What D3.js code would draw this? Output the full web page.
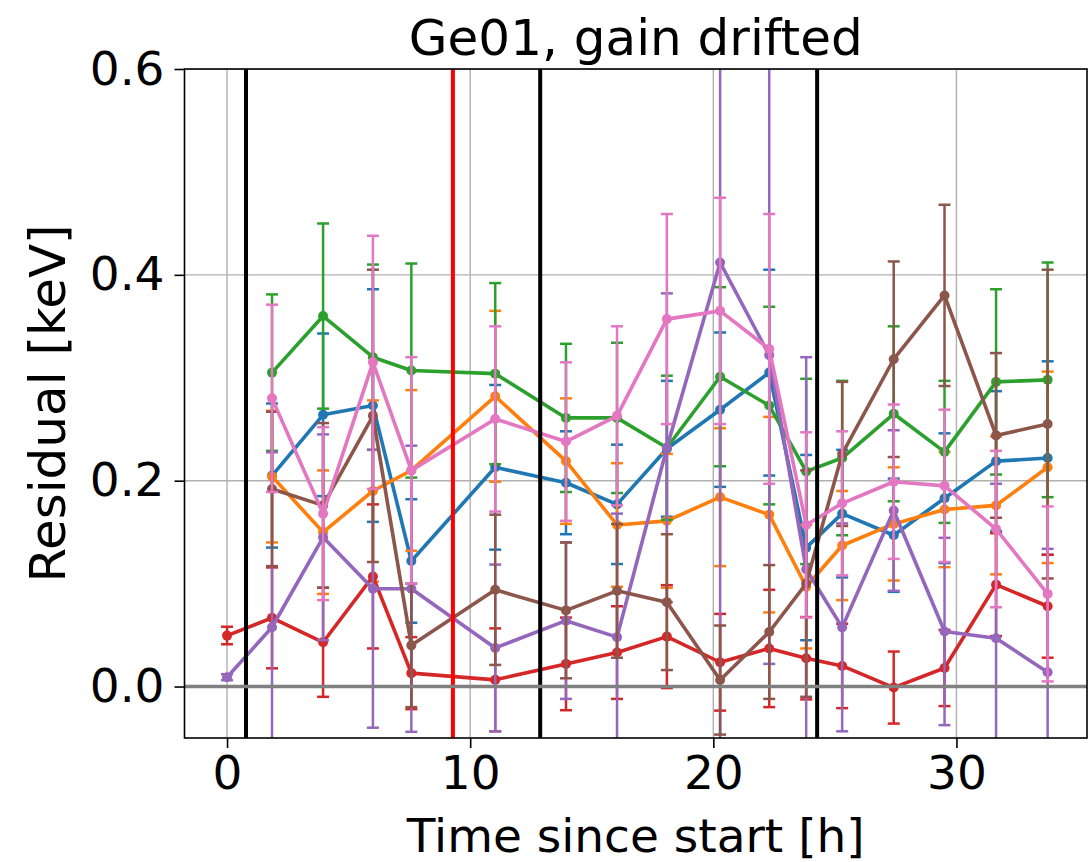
<!DOCTYPE html>
<html>
<head>
<meta charset="utf-8">
<script src="https://cdn.jsdelivr.net/npm/d3@7"></script>
<style>
  body { margin: 0; background: #fff; }
  svg { display: block; }
  text { font-family: "DejaVu Sans", sans-serif; fill: #000; }
</style>
</head>
<body>
<svg id="chart" width="1088" height="862"></svg>
<script>
// Measurement times in hours since start
const times = [0, 1.85, 3.95, 6.0, 7.58, 11.03, 13.94, 16.04, 18.09, 20.28, 22.3, 23.82, 25.3, 27.42, 29.51, 31.63, 33.75];

// Residuals [keV] per series (null = no measurement at that time)
const blueVals   = [null, 0.205, 0.264, 0.273, 0.122, 0.213, 0.198, 0.177, 0.231, 0.269, 0.305, 0.135, 0.168, 0.147, 0.183, 0.219, 0.222];
const orangeVals = [null, 0.204, 0.150, 0.190, 0.210, 0.282, 0.219, 0.157, 0.161, 0.184, 0.167, 0.097, 0.137, 0.158, 0.172, 0.176, 0.213];
const greenVals  = [null, 0.305, 0.360, 0.320, 0.307, 0.304, 0.261, 0.261, 0.232, 0.301, 0.273, 0.209, 0.222, 0.265, 0.228, 0.296, 0.298];
const redVals    = [0.0495, 0.0667, 0.043, 0.107, 0.013, 0.0065, 0.022, 0.033, 0.0485, 0.0236, 0.037, 0.0275, 0.020, -0.001, 0.018, 0.099, 0.078];
const purpleVals = [0.009, 0.0576, 0.145, 0.095, 0.095, 0.0375, 0.064, 0.048, 0.232, 0.412, 0.322, 0.114, 0.0575, 0.171, 0.0535, 0.047, 0.0138];
const brownVals  = [null, 0.192, 0.176, 0.263, 0.040, 0.094, 0.074, 0.093, 0.082, 0.0063, 0.053, 0.100, 0.226, 0.318, 0.380, 0.244, 0.255];
const pinkVals   = [null, 0.280, 0.168, 0.315, 0.210, 0.260, 0.238, 0.263, 0.357, 0.365, 0.328, 0.157, 0.178, 0.199, 0.195, 0.153, 0.090];

// Symmetric uncertainties [keV]
const blueErr   = [null, 0.07, 0.079, 0.113, 0.06, 0.08, 0.05, 0.058, 0.066, 0.075, 0.10, 0.09, 0.062, 0.055, 0.063, 0.068, 0.094];
const orangeErr = [null, 0.064, 0.06, 0.088, 0.078, 0.083, 0.061, 0.06, 0.065, 0.067, 0.095, 0.06, 0.053, 0.055, 0.056, 0.067, 0.093];
const greenErr  = [null, 0.076, 0.09, 0.09, 0.104, 0.088, 0.072, 0.073, 0.07, 0.087, 0.096, 0.09, 0.075, 0.085, 0.069, 0.09, 0.114];
const redErr    = [0.0085, 0.049, 0.053, 0.07, 0.035, 0.05, 0.045, 0.045, 0.05, 0.047, 0.057, 0.04, 0.041, 0.035, 0.037, 0.05, 0.05];
const purpleErr = [0.003, 0.17, 0.10, 0.135, 0.139, 0.081, 0.076, 0.12, 0.15, 0.50, 0.30, 0.206, 0.101, 0.078, 0.091, 0.15, 0.12];
const brownErr  = [null, 0.075, 0.08, 0.142, 0.06, 0.073, 0.066, 0.065, 0.066, 0.053, 0.065, 0.11, 0.07, 0.095, 0.088, 0.08, 0.15];
const pinkErr   = [null, 0.091, 0.084, 0.123, 0.11, 0.09, 0.077, 0.087, 0.102, 0.11, 0.131, 0.09, 0.07, 0.075, 0.074, 0.076, 0.085];

const seriesColors = ["#1f77b4", "#ff7f0e", "#2ca02c", "#d62728", "#9467bd", "#8c564b", "#e377c2"];
const seriesVals = [blueVals, orangeVals, greenVals, redVals, purpleVals, brownVals, pinkVals];
const seriesErrs = [blueErr, orangeErr, greenErr, redErr, purpleErr, brownErr, pinkErr];

// Marker times for run boundaries (black) and the drift onset (red)
const boundaryTimes = [0.78, 12.88, 24.27];
const driftTimes = [9.29];

const xTicks = [0, 10, 20, 30];
const yTicks = [0.0, 0.2, 0.4, 0.6];
const xDomain = [-1.75, 35.37];
const yDomain = [-0.05, 0.6];

const titleText = "Ge01, gain drifted";
const xLabelText = "Time since start [h]";
const yLabelText = "Residual [keV]";

const W = 1088, H = 862;
const plot = { left: 184.5, right: 1087, top: 69, bottom: 738 };

const svg = d3.select("#chart");
const x = d3.scaleLinear().domain(xDomain).range([plot.left, plot.right]);
const y = d3.scaleLinear().domain(yDomain).range([plot.bottom, plot.top]);

svg.append("defs").append("clipPath").attr("id", "plot-clip")
  .append("rect")
  .attr("x", plot.left).attr("y", plot.top)
  .attr("width", plot.right - plot.left).attr("height", plot.bottom - plot.top);

// Grid
const grid = svg.append("g").attr("clip-path", "url(#plot-clip)");
grid.selectAll("line.gx").data(xTicks).join("line")
  .attr("x1", d => x(d)).attr("x2", d => x(d))
  .attr("y1", plot.top).attr("y2", plot.bottom)
  .attr("stroke", "#b0b0b0").attr("stroke-width", 1.4);
grid.selectAll("line.gy").data(yTicks).join("line")
  .attr("y1", d => y(d)).attr("y2", d => y(d))
  .attr("x1", plot.left).attr("x2", plot.right)
  .attr("stroke", "#b0b0b0").attr("stroke-width", 1.4);

// Series with error bars
const dataLayer = svg.append("g").attr("clip-path", "url(#plot-clip)");
const capHalf = 6;
const line = d3.line().x(d => x(d.t)).y(d => y(d.v));

seriesVals.forEach((vals, si) => {
  const color = seriesColors[si];
  const pts = times.map((t, i) => ({ t, v: vals[i], e: seriesErrs[si][i] }))
                   .filter(p => p.v !== null);
  const g = dataLayer.append("g");
  const eb = g.append("g").attr("stroke", color).attr("stroke-width", 2.5).attr("fill", "none");
  pts.forEach(p => {
    const y1 = y(p.v - p.e), y2 = y(p.v + p.e), cx = x(p.t);
    eb.append("line").attr("x1", cx).attr("x2", cx).attr("y1", y1).attr("y2", y2);
    eb.append("line").attr("x1", cx - capHalf).attr("x2", cx + capHalf).attr("y1", y1).attr("y2", y1);
    eb.append("line").attr("x1", cx - capHalf).attr("x2", cx + capHalf).attr("y1", y2).attr("y2", y2);
  });
  g.append("path").datum(pts).attr("d", line)
    .attr("fill", "none").attr("stroke", color).attr("stroke-width", 3.6)
    .attr("stroke-linejoin", "round");
  g.selectAll("circle").data(pts).join("circle")
    .attr("cx", d => x(d.t)).attr("cy", d => y(d.v)).attr("r", 5)
    .attr("fill", color);
});

// Vertical markers and zero line
const overlay = svg.append("g").attr("clip-path", "url(#plot-clip)");
overlay.selectAll("line.b").data(boundaryTimes).join("line")
  .attr("x1", d => x(d)).attr("x2", d => x(d))
  .attr("y1", plot.top).attr("y2", plot.bottom)
  .attr("stroke", "#000").attr("stroke-width", 4);
overlay.selectAll("line.r").data(driftTimes).join("line")
  .attr("x1", d => x(d)).attr("x2", d => x(d))
  .attr("y1", plot.top).attr("y2", plot.bottom)
  .attr("stroke", "#ff0000").attr("stroke-width", 4);
overlay.append("line")
  .attr("x1", plot.left).attr("x2", plot.right)
  .attr("y1", y(0)).attr("y2", y(0))
  .attr("stroke", "#808080").attr("stroke-width", 3.6);

// Axes
const xAxis = svg.append("g").attr("transform", `translate(0,${plot.bottom})`)
  .call(d3.axisBottom(x).tickValues(xTicks).tickFormat(d3.format("d")).tickSize(10).tickPadding(8));
const yAxis = svg.append("g").attr("transform", `translate(${plot.left},0)`)
  .call(d3.axisLeft(y).tickValues(yTicks).tickFormat(d3.format(".1f")).tickSize(10).tickPadding(10));
[xAxis, yAxis].forEach(a => {
  a.select(".domain").remove();
  a.selectAll(".tick line").attr("stroke", "#000").attr("stroke-width", 1.6);
  a.selectAll(".tick text").attr("font-size", 47).attr("font-family", "DejaVu Sans").attr("fill", "#000");
});

// Frame
svg.append("rect")
  .attr("x", plot.left).attr("y", plot.top)
  .attr("width", plot.right - plot.left).attr("height", plot.bottom - plot.top)
  .attr("fill", "none").attr("stroke", "#000").attr("stroke-width", 1.6);

// Labels
svg.append("text").attr("x", (plot.left + plot.right) / 2).attr("y", 55)
  .attr("text-anchor", "middle").attr("font-size", 50).text(titleText);
svg.append("text").attr("x", (plot.left + plot.right) / 2).attr("y", 852)
  .attr("text-anchor", "middle").attr("font-size", 47).text(xLabelText);
svg.append("text")
  .attr("transform", `translate(65,${(plot.top + plot.bottom) / 2}) rotate(-90)`)
  .attr("text-anchor", "middle").attr("font-size", 50).text(yLabelText);
</script>
</body>
</html>
